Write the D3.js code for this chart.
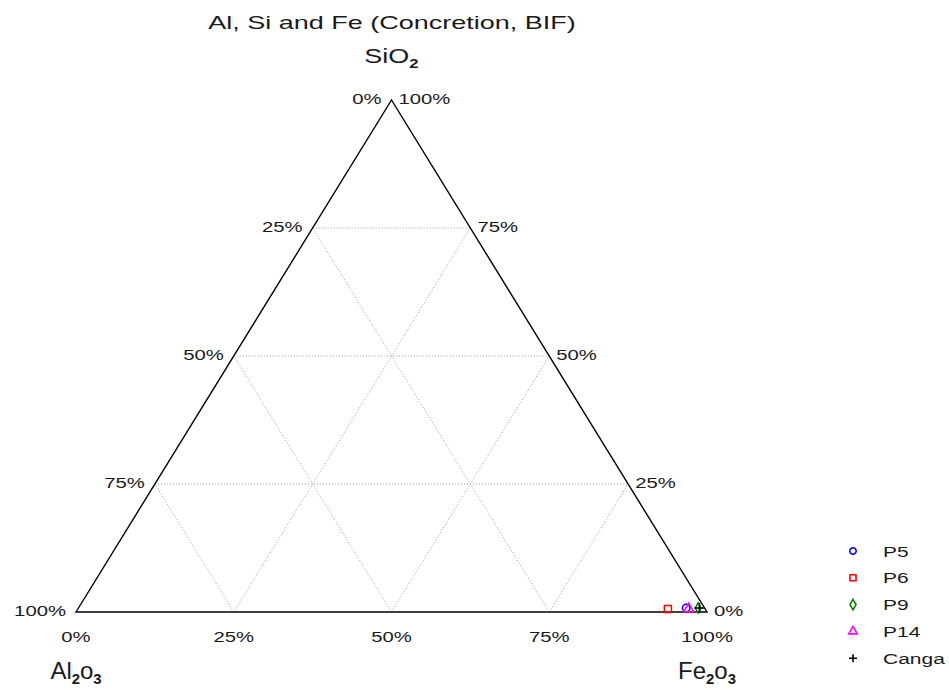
<!DOCTYPE html>
<html>
<head>
<meta charset="utf-8">
<script src="https://cdn.jsdelivr.net/npm/d3@7"></script>
<style>
  body { margin: 0; background: #fff; }
  text { font-family: "Liberation Sans", Arial, sans-serif; fill: #1a1a1a; }
</style>
</head>
<body>
<svg id="chart" width="949" height="690"></svg>
<script>
// Sample compositions (fractions, Al2O3 + SiO2 + Fe2O3 = 1)
const samples = ["P5", "P6", "P9", "P14", "Canga"];
const al2o3 = [0.029, 0.059, 0.010, 0.026, 0.008];
const sio2  = [0.008, 0.006, 0.008, 0.006, 0.008];
const fe2o3 = [0.963, 0.935, 0.982, 0.968, 0.984];

const gridLevels = [0.25, 0.5, 0.75];
const tickValues = [0, 0.25, 0.5, 0.75, 1];
const tickLabel = d3.format(".0%");

const colors = ["#0000ff", "#ff0000", "#008000", "#ff00ff", "#000000"];
const symbols = [d3.symbolCircle, d3.symbolSquare, d3.symbolDiamond, d3.symbolTriangle, d3.symbolCross];

const svg = d3.select("#chart");

// Ternary coordinates: horizontal position from Fe2O3 + SiO2/2, height from SiO2
const x = d3.scaleLinear().domain([0, 1]).range([76, 707]);
const y = d3.scaleLinear().domain([0, 1]).range([612, 100]);
const pos = (a, s, f) => [x(f + s / 2), y(s)];

// Text drawn with a horizontal stretch about its anchor point
function wideText(px, py, str, size, anchor, sx) {
  return svg.append("text")
    .attr("transform", `translate(${px},${py}) scale(${sx},1)`)
    .attr("text-anchor", anchor).attr("font-size", size).text(str);
}

// Grid lines (dotted)
const grid = svg.append("g").attr("stroke", "#999").attr("stroke-width", 1)
  .attr("stroke-dasharray", "1,2").attr("fill", "none");
gridLevels.forEach(v => {
  const segs = [
    [pos(1 - v, v, 0), pos(0, v, 1 - v)],   // constant SiO2
    [pos(1 - v, 0, v), pos(0, 1 - v, v)],   // constant Fe2O3
    [pos(v, 0, 1 - v), pos(v, 1 - v, 0)]    // constant Al2O3
  ];
  segs.forEach(([p1, p2]) => grid.append("line")
    .attr("x1", p1[0]).attr("y1", p1[1]).attr("x2", p2[0]).attr("y2", p2[1]));
});

// Triangle outline
const A = pos(1, 0, 0), S = pos(0, 1, 0), F = pos(0, 0, 1);
svg.append("path")
  .attr("d", d3.line()([A, S, F, A]) + "Z")
  .attr("fill", "none").attr("stroke", "#000").attr("stroke-width", 1.4);

const tickFont = 14, tickSx = 1.45;
// Left edge: Al2O3 labels
tickValues.forEach(v => {
  const p = pos(v, 1 - v, 0);
  wideText(p[0] - 10, p[1] + 4, tickLabel(v), tickFont, "end", tickSx);
});
// Right edge: SiO2 labels
tickValues.forEach(v => {
  const p = pos(0, v, 1 - v);
  wideText(p[0] + 7, p[1] + 4, tickLabel(v), tickFont, "start", tickSx);
});
// Bottom edge: Fe2O3 labels
tickValues.forEach(v => {
  const p = pos(1 - v, 0, v);
  wideText(p[0], p[1] + 30, tickLabel(v), tickFont, "middle", tickSx);
});

// Title
wideText(392, 29, "Al, Si and Fe (Concretion, BIF)", 18, "middle", 1.5);

// Vertex labels with subscripts
function formula(px, py, parts, size, sx) {
  const t = wideText(px, py, null, size, "middle", sx);
  let down = false;
  parts.forEach(([txt, sub]) => {
    const ts = t.append("tspan").text(txt);
    if (sub) {
      ts.attr("font-size", size * 0.62).attr("font-weight", "bold").attr("dy", down ? 0 : 5);
      down = true;
    } else {
      ts.attr("dy", down ? -5 : 0);
      down = false;
    }
  });
}
formula(S[0], 63, [["SiO", false], ["2", true]], 20, 1.35);
formula(A[0], 679, [["Al", false], ["2", true], ["o", false], ["3", true]], 24, 1.0);
formula(F[0], 679, [["Fe", false], ["2", true], ["o", false], ["3", true]], 24, 1.0);

// Data points
const sym = d3.symbol();
const markPath = (type, size) => type === d3.symbolCross ? `M-${size},0H${size}M0,-${size}V${size}` :
  sym.type(type).size(type === d3.symbolSquare ? 50 : type === d3.symbolDiamond ? 30 : 44)();
samples.forEach((name, i) => {
  const p = pos(al2o3[i], sio2[i], fe2o3[i]);
  svg.append("path")
    .attr("d", markPath(symbols[i], 5))
    .attr("transform", `translate(${p[0]},${p[1]})`)
    .attr("fill", "none").attr("stroke", colors[i]).attr("stroke-width", 1.5);
});

// Legend
const legend = svg.append("g");
samples.forEach((name, i) => {
  const ly = 551 + i * 26.8;
  legend.append("path")
    .attr("d", symbols[i] === d3.symbolCross ? "M-4,0H4M0,-4V4" : sym.type(symbols[i]).size(symbols[i] === d3.symbolSquare ? 36 : 32)())
    .attr("transform", `translate(853,${ly})`)
    .attr("fill", "none").attr("stroke", colors[i]).attr("stroke-width", 1.6);
  legend.append("text")
    .attr("transform", `translate(883,${ly + 5.5}) scale(1.4,1)`)
    .attr("font-size", 15).text(name);
});
</script>
</body>
</html>
